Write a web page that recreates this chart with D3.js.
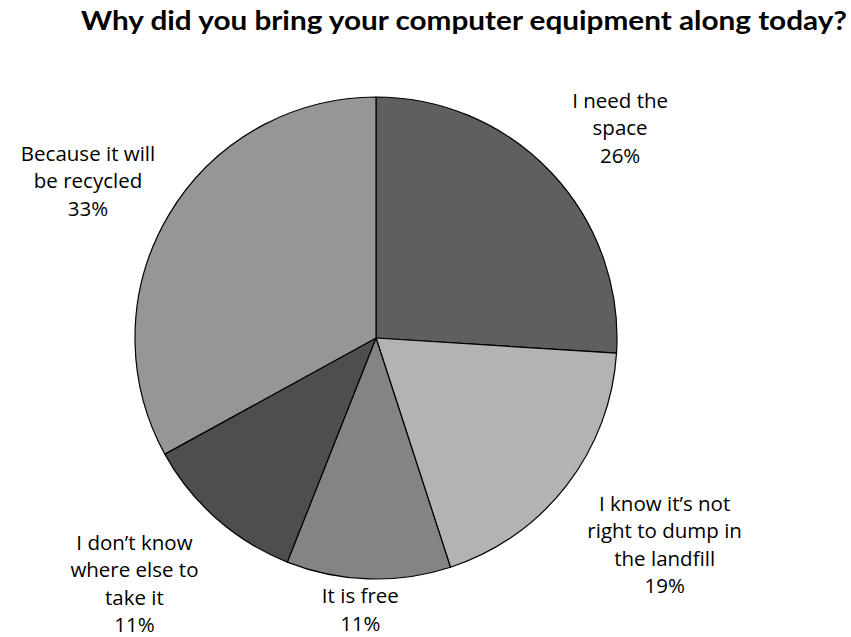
<!DOCTYPE html>
<html>
<head>
<meta charset="utf-8">
<script src="https://cdn.jsdelivr.net/npm/d3@7/dist/d3.min.js"></script>
<style>
  html, body { margin: 0; padding: 0; background: #fff; }
  svg { display: block; }
</style>
</head>
<body>
<svg id="chart" width="851" height="637"></svg>
<script>
// Survey answers, clockwise from 12 o'clock
const categories = [
  "I need the space",
  "I know it\u2019s not right to dump in the landfill",
  "It is free",
  "I don\u2019t know where else to take it",
  "Because it will be recycled"
];
const values = [26, 19, 11, 11, 33];
const labelLines = [
  ["I need the", "space"],
  ["I know it\u2019s not", "right to dump in", "the landfill"],
  ["It is free"],
  ["I don\u2019t know", "where else to", "take it"],
  ["Because it will", "be recycled"]
];
const sliceColors = ["#5f5f5f", "#b3b3b3", "#848484", "#4e4e4e", "#969696"];
const title = "Why did you bring your computer equipment along today?";

const W = 851, H = 637;
const cx = 376, cy = 338, R = 241;
const font = "'Open Sans', Lato, sans-serif";
const titleFont = "Lato, 'Open Sans', sans-serif";
const fs = 20.5, lineH = 27.5;
// label block placement: distance from the pie centre (in radii) and
// angular nudge (degrees) away from each slice's mid-angle
const labelDist = [1.336, 1.473, 1.130, 1.430, 1.361];
const labelNudge = [2.5, -2.2, 1.5, 3.1, -2.0];

const svg = d3.select("#chart");

svg.append("text")
  .attr("x", 464).attr("y", 30)
  .attr("text-anchor", "middle")
  .attr("font-family", titleFont)
  .attr("font-weight", "bold")
  .attr("font-size", 26.5)
  .attr("textLength", 766)
  .attr("lengthAdjust", "spacingAndGlyphs")
  .attr("fill", "#000")
  .text(title);

const data = categories.map((c, i) => ({ category: c, value: values[i], lines: labelLines[i], color: sliceColors[i] }));

const pie = d3.pie().value(d => d.value).sort(null);
const arcs = pie(data);
const arc = d3.arc().innerRadius(0).outerRadius(R);

const g = svg.append("g").attr("transform", `translate(${cx},${cy})`);

g.selectAll("path.slice")
  .data(arcs)
  .join("path")
  .attr("class", "slice")
  .attr("d", arc)
  .attr("fill", d => d.data.color)
  .attr("stroke", "#000")
  .attr("stroke-width", 1.2)
  .attr("stroke-linejoin", "round");

const capH = fs * 0.714;
const labels = g.selectAll("g.label")
  .data(arcs)
  .join("g")
  .attr("class", "label")
  .attr("transform", (d, i) => {
    const a = (d.startAngle + d.endAngle) / 2 + labelNudge[i] * Math.PI / 180;
    const r = R * labelDist[i];
    return `translate(${r * Math.sin(a)},${-r * Math.cos(a)})`;
  });

labels.each(function (d) {
  const lines = d.data.lines.concat([d.data.value + "%"]);
  const n = lines.length;
  const y0 = -(n - 1) * lineH / 2 + capH / 2;
  d3.select(this).selectAll("text")
    .data(lines)
    .join("text")
    .attr("x", 0)
    .attr("y", (t, j) => y0 + j * lineH)
    .attr("text-anchor", "middle")
    .attr("font-family", font)
    .attr("font-size", fs)
    .attr("fill", "#000")
    .text(t => t);
});
</script>
</body>
</html>
